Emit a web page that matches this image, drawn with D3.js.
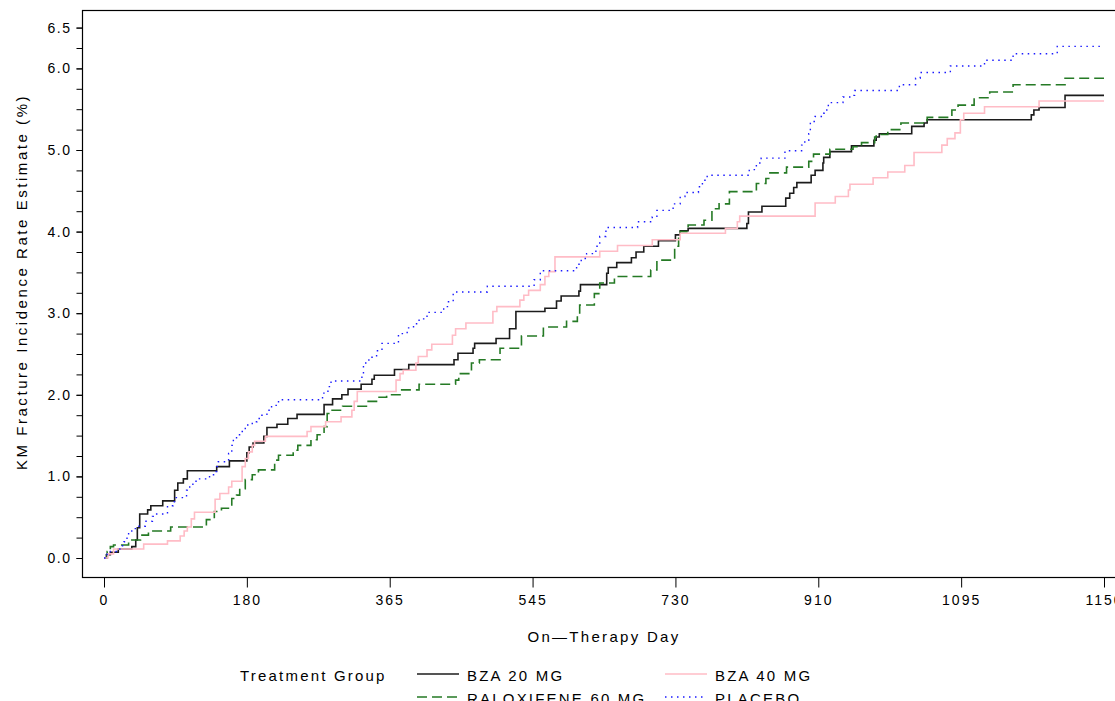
<!DOCTYPE html>
<html>
<head>
<meta charset="utf-8">
<script src="https://d3js.org/d3.v7.min.js"></script>
<style>
  body { margin: 0; background: #fff; }
  text { font-family: "Liberation Sans", Arial, sans-serif; fill: #000; }
</style>
</head>
<body>
<div id="km_chart"></div>
<script>
// KM curves, [day, rate %] (step after each point)
var groups = ["BZA 20 MG", "RALOXIFENE 60 MG", "BZA 40 MG", "PLACEBO"];

var bza20 = [[0,0],[3,0.04],[8,0.07],[18,0.11],[35,0.14],[40,0.22],[42,0.37],[45,0.54],[55,0.59],[59,0.64],
  [74,0.70],[89,0.83],[93,0.92],[100,0.97],[105,1.07],[142,1.12],[158,1.19],[180,1.29],[183,1.36],[188,1.41],
  [202,1.49],[206,1.60],[219,1.64],[233,1.71],[245,1.76],[280,1.88],[291,1.95],[303,2.00],[311,2.07],[328,2.13],
  [342,2.19],[345,2.24],[371,2.31],[389,2.37],[446,2.43],[451,2.51],[470,2.57],[472,2.63],[499,2.69],[516,2.81],
  [524,3.02],[561,3.06],[576,3.15],[582,3.21],[605,3.27],[607,3.35],[641,3.49],[643,3.56],[654,3.62],[673,3.68],
  [679,3.75],[689,3.82],[708,3.89],[730,3.96],[736,4.01],[746,4.04],[820,4.10],[822,4.24],[839,4.31],[869,4.41],
  [874,4.47],[879,4.54],[883,4.60],[901,4.69],[906,4.75],[916,4.84],[917,4.91],[925,4.98],[953,5.05],[982,5.12],
  [985,5.16],[989,5.20],[1031,5.29],[1047,5.33],[1051,5.37],[1122,5.43],[1123,5.49],[1125,5.52],[1135,5.67],[1150,5.67]];

var ralox60 = [[0,0],[4,0.08],[8,0.14],[12,0.16],[31,0.22],[46,0.28],[56,0.33],[84,0.38],[129,0.47],[139,0.57],
  [148,0.61],[161,0.73],[167,0.77],[171,0.85],[178,0.96],[187,1.02],[195,1.08],[216,1.20],[221,1.26],[240,1.32],
  [246,1.38],[263,1.45],[271,1.51],[280,1.61],[284,1.77],[289,1.81],[304,1.86],[336,1.92],[350,1.97],[361,2.00],
  [378,2.06],[402,2.13],[448,2.18],[452,2.26],[468,2.39],[478,2.43],[504,2.57],[531,2.72],[559,2.83],[589,2.90],
  [603,2.98],[606,3.10],[625,3.24],[632,3.37],[651,3.45],[698,3.53],[706,3.65],[729,3.82],[734,3.94],[736,4.00],
  [746,4.08],[766,4.14],[776,4.28],[785,4.34],[798,4.49],[832,4.59],[844,4.65],[849,4.72],[870,4.79],[898,4.86],
  [904,4.95],[925,5.01],[955,5.04],[966,5.09],[983,5.16],[985,5.19],[1000,5.25],[1017,5.33],[1051,5.40],[1083,5.49],
  [1091,5.55],[1100,5.64],[1106,5.71],[1115,5.80],[1135,5.88],[1150,5.88]];

var bza40 = [[0,0],[5,0.05],[12,0.11],[50,0.17],[80,0.21],[96,0.27],[101,0.33],[105,0.38],[110,0.48],[114,0.56],
  [140,0.72],[146,0.79],[157,0.87],[161,0.94],[174,1.12],[178,1.22],[182,1.30],[187,1.38],[190,1.43],[204,1.49],
  [258,1.55],[263,1.61],[282,1.67],[302,1.73],[316,1.81],[319,1.92],[323,2.04],[373,2.18],[378,2.26],[382,2.30],
  [398,2.39],[401,2.47],[412,2.55],[418,2.62],[444,2.73],[448,2.81],[461,2.88],[495,3.02],[500,3.08],[529,3.16],
  [534,3.22],[540,3.28],[555,3.35],[561,3.45],[566,3.51],[574,3.69],[632,3.76],[655,3.83],[700,3.90],[736,3.98],
  [793,4.04],[808,4.12],[811,4.19],[906,4.35],[932,4.43],[949,4.51],[951,4.58],[981,4.66],[1000,4.73],[1022,4.81],
  [1034,4.97],[1070,5.06],[1077,5.14],[1087,5.21],[1094,5.37],[1096,5.45],[1104,5.53],[1125,5.60],[1150,5.60]];

var placebo = [[0,0],[4,0.05],[8,0.08],[20,0.15],[25,0.20],[29,0.26],[31,0.32],[35,0.36],[44,0.39],[52,0.45],
  [61,0.51],[65,0.54],[80,0.64],[87,0.69],[91,0.74],[104,0.83],[108,0.89],[112,0.94],[116,0.97],[133,1.02],
  [140,1.06],[142,1.12],[144,1.18],[157,1.28],[161,1.38],[163,1.45],[167,1.51],[172,1.55],[178,1.63],[187,1.67],
  [193,1.71],[197,1.75],[206,1.81],[212,1.87],[221,1.94],[278,2.02],[285,2.10],[289,2.17],[329,2.24],[331,2.39],
  [338,2.46],[348,2.54],[355,2.63],[376,2.75],[387,2.82],[395,2.87],[402,2.93],[412,3.01],[433,3.08],[439,3.14],
  [445,3.26],[488,3.33],[547,3.41],[555,3.52],[602,3.60],[608,3.67],[615,3.73],[627,3.82],[632,3.94],[640,4.05],
  [681,4.12],[700,4.18],[706,4.26],[727,4.34],[736,4.43],[742,4.48],[759,4.55],[764,4.63],[770,4.69],[823,4.76],
  [832,4.84],[838,4.90],[868,4.99],[889,5.06],[893,5.12],[898,5.20],[900,5.35],[906,5.41],[917,5.45],[921,5.49],
  [923,5.58],[942,5.65],[953,5.67],[957,5.73],[1015,5.80],[1036,5.88],[1042,5.95],[1081,6.03],[1104,6.10],[1115,6.18],
  [1132,6.27],[1150,6.27]];

var xTicks = [0, 180, 365, 545, 730, 910, 1095, 1150];
var yTicks = [0, 1, 2, 3, 4, 5, 6, 6.5];

var series = [bza20, ralox60, bza40, placebo];

// line styles per group
var styles = [
  {color: "#1c1c1c", width: 1.6, dash: null},
  {color: "#257a25", width: 1.6, dash: "10,5"},
  {color: "#ffbcc6", width: 1.6, dash: null},
  {color: "#1a1aff", width: 1.4, dash: "1.5,4.5"}
];

var width = 1115, height = 701;
var frame = {left: 82, top: 10, bottom: 577};

var svg = d3.select("#km_chart")
  .append("svg")
    .attr("width", width)
    .attr("height", height);

// x ticks are evenly spaced in the original, so map them piecewise
var x = d3.scaleLinear()
  .domain(xTicks)
  .range(xTicks.map(function(d, i) { return 104 + i * 1000 / 7; }));

var y = d3.scaleLinear()
  .domain([0, 6.5])
  .range([558, 27.6]);

// frame (right side runs off the page)
svg.append("rect")
  .attr("x", frame.left + 0.5)
  .attr("y", frame.top + 0.5)
  .attr("width", width)
  .attr("height", frame.bottom - frame.top)
  .attr("fill", "none")
  .attr("stroke", "#000")
  .attr("stroke-width", 1.2);

// Y axis minor + major ticks
svg.append("g")
  .attr("transform", "translate(" + (frame.left + 0.5) + ",0)")
  .call(d3.axisLeft(y).tickValues(d3.range(0, 6.51, 0.25)).tickSize(6).tickFormat(""))
  .call(function(g) { g.select(".domain").remove(); });

var yAxis = svg.append("g")
  .attr("transform", "translate(" + (frame.left + 0.5) + ",0)")
  .call(d3.axisLeft(y).tickValues(yTicks).tickSize(6).tickPadding(5).tickFormat(d3.format(".1f")));
yAxis.select(".domain").remove();
yAxis.selectAll("text")
  .style("font-size", "14px")
  .style("letter-spacing", "1.5px")
  .style("font-family", "'Liberation Sans', Arial, sans-serif");

// X axis
var xAxis = svg.append("g")
  .attr("transform", "translate(0," + (frame.bottom + 0.5) + ")")
  .call(d3.axisBottom(x).tickValues(xTicks).tickSize(10).tickPadding(8).tickFormat(function(d) { return d; }));
xAxis.select(".domain").remove();
xAxis.selectAll("text")
  .style("font-size", "14px")
  .style("letter-spacing", "2px")
  .style("font-family", "'Liberation Sans', Arial, sans-serif");

// axis titles
svg.append("text")
  .attr("transform", "translate(27,282)rotate(-90)")
  .attr("text-anchor", "middle")
  .style("font-size", "15px")
  .style("letter-spacing", "2.55px")
  .text("KM Fracture Incidence Rate Estimate (%)");

svg.append("text")
  .attr("x", 604)
  .attr("y", 642)
  .attr("text-anchor", "middle")
  .style("font-size", "15px")
  .style("letter-spacing", "2.3px")
  .text("On\u2014Therapy Day");

// curves
var line = d3.line()
  .x(function(d) { return x(d[0]); })
  .y(function(d) { return y(d[1]); })
  .curve(d3.curveStepAfter);

svg.selectAll(".km")
  .data(series)
  .enter()
  .append("path")
    .attr("class", "km")
    .attr("d", line)
    .attr("fill", "none")
    .attr("stroke", function(d, i) { return styles[i].color; })
    .attr("stroke-width", function(d, i) { return styles[i].width; })
    .attr("stroke-dasharray", function(d, i) { return styles[i].dash; });

// legend
svg.append("text")
  .attr("x", 240)
  .attr("y", 681)
  .style("font-size", "15px")
  .style("letter-spacing", "2.2px")
  .text("Treatment Group");

var legend = svg.selectAll(".leg")
  .data(groups)
  .enter()
  .append("g")
    .attr("class", "leg")
    .attr("transform", function(d, i) {
      return "translate(" + (i < 2 ? 417 : 665) + "," + (i % 2 === 0 ? 674 : 697) + ")";
    });

legend.append("line")
  .attr("x1", 0).attr("x2", 42)
  .attr("stroke", function(d, i) { return styles[i].color; })
  .attr("stroke-width", function(d, i) { return styles[i].width; })
  .attr("stroke-dasharray", function(d, i) { return styles[i].dash; });

legend.append("text")
  .attr("x", 50)
  .attr("y", 7)
  .style("font-size", "15px")
  .style("letter-spacing", "2.2px")
  .text(function(d) { return d; });
</script>
</body>
</html>
